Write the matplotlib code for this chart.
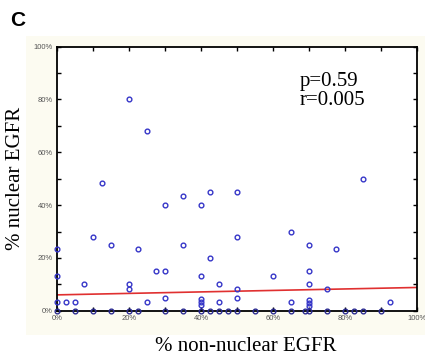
import numpy as np
import matplotlib
matplotlib.use("Agg")
import matplotlib.pyplot as plt
from matplotlib.patches import Rectangle

# -------------------------
# Data (% values)
# -------------------------
non_nuclear = [20, 25, 12.5, 30, 35, 40, 42.5, 50, 85,
               10, 15, 35, 50, 65, 70, 77.5, 0, 22.5,
               42.5, 0, 7.5, 20, 20, 27.5, 30, 40, 45, 50, 60, 70, 70, 75,
               30, 50, 0, 2.5, 5, 25, 40, 40, 40, 45, 65, 70, 70, 70, 92.5]
nuclear = [80, 68, 48.5, 40, 43.5, 40, 45, 45, 50,
           28, 25, 25, 28, 30, 25, 23.5, 23.5, 23.5,
           20, 13.3, 10, 10, 8.2, 15, 15, 13.3, 10, 8.2, 13.3, 15, 10, 8.2,
           5, 5, 3.3, 3.3, 3.3, 3.3, 4.5, 3.3, 2, 3.3, 3.3, 4, 3, 1.8, 3.3]

# cases with no nuclear staining
zero_x = [0, 5, 10, 15, 20, 22.5, 30, 35, 40, 42.5, 45, 47.5, 50, 55, 60,
          65, 69, 70, 75, 80, 82.5, 85, 90]

# regression line
fit_intercept = 6.0
fit_slope = 0.028

ticks = np.arange(0, 101, 10)
tick_labels = ["0%", "", "20%", "", "40%", "", "60%", "", "80%", "", "100%"]

# -------------------------
# Figure
# -------------------------
fig = plt.figure(figsize=(4.25, 3.58), dpi=100)
fig.patches.append(Rectangle((0.06, 0.065), 0.94, 0.835, transform=fig.transFigure,
                             facecolor="#fcfbf1", edgecolor="none", zorder=-5))
ax = fig.add_axes([0.1348, 0.1321, 0.8457, 0.7375])
ax.set_facecolor("white")

marker_color = "#3535c8"
ax.plot(non_nuclear, nuclear, "o", mfc="none", mec=marker_color,
        ms=3.4, mew=1.0, clip_on=False, zorder=3)
ax.plot(zero_x, [0] * len(zero_x), "o", mfc="none", mec="#2a2a90",
        ms=3.4, mew=1.0, clip_on=False, zorder=3)

xs = np.array([0, 100])
ax.plot(xs, fit_intercept + fit_slope * xs, color="#e03030", lw=1.2, zorder=2)

ax.set_xlim(0, 100)
ax.set_ylim(0, 100)
ax.set_xticks(ticks)
ax.set_yticks(ticks)
ax.set_xticklabels(tick_labels)
ax.set_yticklabels(tick_labels)
ax.tick_params(direction="in", length=3, width=1, top=True, right=True,
               labelsize=5.5, labelcolor="#555555", pad=3)
for lab in ax.get_xticklabels() + ax.get_yticklabels():
    lab.set_family("Liberation Sans")
for s in ax.spines.values():
    s.set_linewidth(1.3)

ax.set_xlabel("% non-nuclear EGFR", family="Liberation Serif", fontsize=15)
ax.xaxis.set_label_coords(0.525, -0.1)
ax.set_ylabel("% nuclear EGFR", family="Liberation Serif", fontsize=15)
ax.yaxis.set_label_coords(-0.09, 0.5)

ax.text(0.675, 0.905, "p=0.59\nr=0.005", transform=ax.transAxes,
        family="Liberation Serif", fontsize=15, va="top", ha="left",
        linespacing=1.0)

fig.text(18 / 425, 1 - 20 / 358, "C", family="Liberation Sans",
         fontweight="bold", fontsize=15, ha="center", va="center")

plt.savefig("out.png", dpi=100)
